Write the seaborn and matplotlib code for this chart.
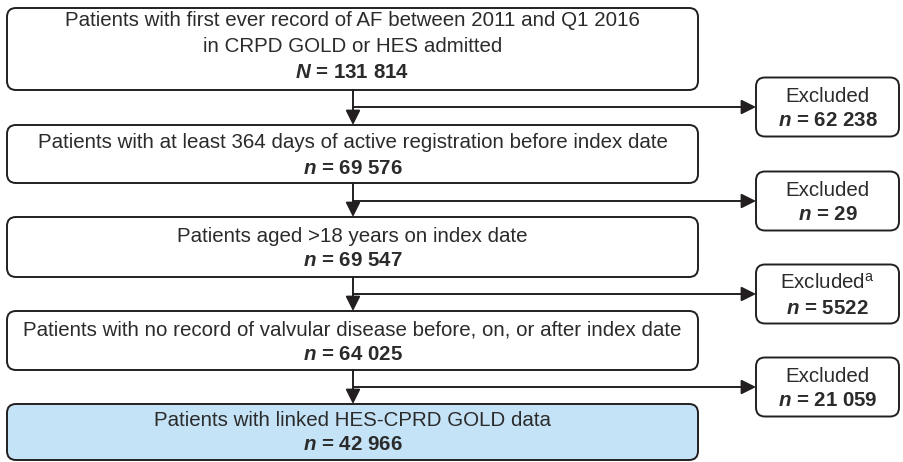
import matplotlib
matplotlib.use("Agg")
import matplotlib.pyplot as plt
import seaborn as sns
from matplotlib.patches import FancyBboxPatch

# ---- data ----
stage_labels = [
    "Patients with first ever record of AF between 2011 and Q1 2016\nin CRPD GOLD or HES admitted",
    "Patients with at least 364 days of active registration before index date",
    "Patients aged >18 years on index date",
    "Patients with no record of valvular disease before, on, or after index date",
    "Patients with linked HES-CPRD GOLD data",
]
stage_n_symbol = ["N", "n", "n", "n", "n"]
stage_counts = ["131 814", "69 576", "69 547", "64 025", "42 966"]
excluded_labels = ["Excluded", "Excluded", "Excluded$^{\\mathregular{a}}$", "Excluded"]
excluded_counts = ["62 238", "29", "5522", "21 059"]

# ---- layout (pixels) ----
W, H = 904, 462
box_left, box_right = 7, 698
box_top = [8, 125, 217, 311, 404]
box_bot = [90, 183, 277, 370, 462]
ex_left, ex_right = 756, 899
ex_half = 29.5
line_y = [107, 201, 294, 387]
cx = 353
TEXT = "#2b2b2b"
EDGE = "#231f20"
FILL_LAST = "#c5e3f6"
FAM = "Liberation Sans"
FS = 14.8

sns.set_theme(style="white")
plt.rcParams["font.family"] = [FAM, "DejaVu Sans"]
plt.rcParams["mathtext.fontset"] = "custom"
plt.rcParams["mathtext.rm"] = FAM
plt.rcParams["mathtext.it"] = FAM + ":italic"
plt.rcParams["mathtext.bf"] = FAM + ":bold"
plt.rcParams["mathtext.bfit"] = FAM + ":italic:bold"

fig = plt.figure(figsize=(W / 100, H / 100), dpi=100)
ax = fig.add_axes([0, 0, 1, 1])
ax.set_xlim(0, W)
ax.set_ylim(H, 0)
ax.axis("off")

box_mid = (box_left + box_right) / 2
for i, (lab, sym, cnt) in enumerate(zip(stage_labels, stage_n_symbol, stage_counts)):
    top, bot = box_top[i], box_bot[i] - (2 if i == 4 else 0)
    fc = FILL_LAST if i == len(stage_labels) - 1 else "white"
    ax.add_patch(FancyBboxPatch((box_left, top), box_right - box_left, bot - top,
                                boxstyle="round,pad=0,rounding_size=9",
                                fc=fc, ec=EDGE, lw=1.4))
    lines = lab.split("\n")
    if i == 0:
        ys = [20, 46, 72]
    else:
        c = (box_top[i] + box_bot[i]) / 2 if i < 4 else 431
        ys = [c - 11, c + 14]
    for txt, y in zip(lines, ys[:-1]):
        ax.text(box_mid, y, txt, ha="center", va="center", fontsize=FS, color=TEXT)
    ax.text(box_mid, ys[-1], f"$\\mathbfit{{{sym}}}$ = {cnt}", ha="center", va="center",
            fontsize=FS, color=TEXT, fontweight="bold")

arrow = dict(arrowstyle="-|>,head_length=0.42,head_width=0.21", color=EDGE, lw=1.4,
             shrinkA=0, shrinkB=0, mutation_scale=21)
for i in range(4):
    ax.annotate("", xy=(cx, box_top[i + 1]), xytext=(cx, box_bot[i]), arrowprops=arrow)
    ax.annotate("", xy=(ex_left, line_y[i]), xytext=(cx, line_y[i]), arrowprops=arrow)
    top = line_y[i] - ex_half
    ax.add_patch(FancyBboxPatch((ex_left, top), ex_right - ex_left, 2 * ex_half,
                                boxstyle="round,pad=0,rounding_size=9",
                                fc="white", ec=EDGE, lw=1.4))
    exm = (ex_left + ex_right) / 2
    ax.text(exm, line_y[i] - 11, excluded_labels[i], ha="center", va="center",
            fontsize=FS, color=TEXT)
    ax.text(exm, line_y[i] + 14, f"$\\mathbfit{{n}}$ = {excluded_counts[i]}", ha="center",
            va="center", fontsize=FS, color=TEXT, fontweight="bold")

fig.savefig("out.png", dpi=100)
